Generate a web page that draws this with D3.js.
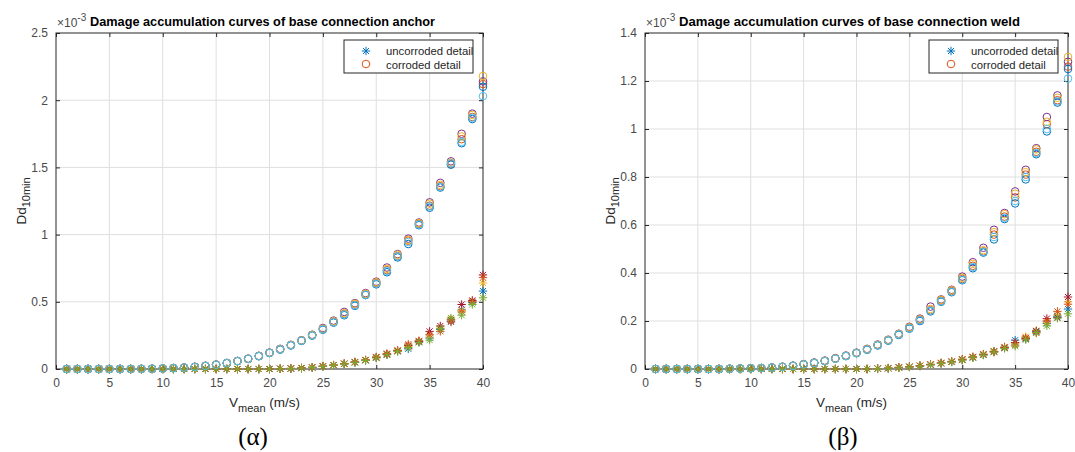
<!DOCTYPE html>
<html>
<head>
<meta charset="utf-8">
<script src="https://cdnjs.cloudflare.com/ajax/libs/d3/7.8.5/d3.min.js"></script>
<style>
  body { margin: 0; background: #fff; }
  svg { display: block; font-family: 'Liberation Sans', Arial, sans-serif; }
  .grid line { stroke: #dfdfdf; stroke-width: 1; }
  .tick text { fill: #4a4a4a; font-size: 12px; font-family: 'Liberation Sans', Arial, sans-serif; }
  .caption { font-family: 'Liberation Serif', 'Times New Roman', 'DejaVu Serif', serif; }
</style>
</head>
<body>
<svg id="chart" width="1075" height="452"></svg>
<script>
// wind speed classes (m/s)
var speeds = [1,2,3,4,5,6,7,8,9,10,11,12,13,14,15,16,17,18,19,20,21,22,23,24,25,26,27,28,29,30,31,32,33,34,35,36,37,38,39,40];

var xTicks = [0,5,10,15,20,25,30,35,40];
var anchorTicks = [0,0.5,1,1.5,2,2.5];
var weldTicks = [0,0.2,0.4,0.6,0.8,1,1.2,1.4];

// damage, x10^-3 : base connection anchor, uncorroded detail
var anchorUnc1 = [0,0,0,0,0,0,0,0,0,0,0,0,0,0,0,0,0,0,0,0,0.002,0.004,0.007,0.012,0.020,0.028,0.038,0.050,0.065,0.085,0.108,0.133,0.150,0.200,0.230,0.295,0.355,0.440,0.495,0.580];
var anchorUnc2 = [0,0,0,0,0,0,0,0,0,0,0,0,0,0,0,0,0,0,0,0,0.002,0.004,0.008,0.013,0.021,0.029,0.040,0.052,0.067,0.088,0.112,0.138,0.168,0.208,0.245,0.305,0.370,0.435,0.505,0.640];
var anchorUnc3 = [0,0,0,0,0,0,0,0,0,0,0,0,0,0,0,0,0,0,0,0,0.002,0.004,0.007,0.012,0.020,0.028,0.039,0.051,0.066,0.086,0.110,0.135,0.175,0.205,0.280,0.320,0.365,0.480,0.510,0.700];
var anchorUnc4 = [0,0,0,0,0,0,0,0,0,0,0,0,0,0,0,0,0,0,0,0,0.002,0.005,0.008,0.013,0.022,0.030,0.040,0.053,0.068,0.090,0.115,0.140,0.185,0.210,0.255,0.280,0.350,0.425,0.500,0.680];
var anchorUnc5 = [0,0,0,0,0,0,0,0,0,0,0,0,0,0,0,0,0,0,0,0,0.001,0.003,0.006,0.011,0.019,0.027,0.037,0.048,0.063,0.082,0.105,0.130,0.160,0.198,0.215,0.300,0.380,0.400,0.480,0.530];

// base connection anchor, corroded detail
var anchorCorr1 = [0,0,0,0,0,0,0,0.001,0.002,0.004,0.007,0.011,0.016,0.023,0.032,0.044,0.059,0.076,0.097,0.121,0.147,0.178,0.212,0.252,0.297,0.350,0.410,0.478,0.555,0.640,0.735,0.840,0.955,1.080,1.215,1.360,1.525,1.710,1.875,2.120];
var anchorCorr2 = [0,0,0,0,0,0,0,0.001,0.002,0.004,0.007,0.011,0.016,0.024,0.033,0.045,0.060,0.077,0.098,0.122,0.150,0.180,0.214,0.255,0.305,0.360,0.425,0.490,0.565,0.650,0.755,0.855,0.970,1.090,1.240,1.385,1.545,1.750,1.900,2.140];
var anchorCorr3 = [0,0,0,0,0,0,0,0.001,0.002,0.003,0.006,0.010,0.015,0.022,0.031,0.043,0.058,0.075,0.095,0.119,0.144,0.175,0.209,0.248,0.292,0.345,0.400,0.470,0.550,0.630,0.720,0.830,0.930,1.070,1.200,1.350,1.520,1.680,1.860,2.100];
var anchorCorr4 = [0,0,0,0,0,0,0,0.001,0.002,0.004,0.007,0.011,0.016,0.023,0.032,0.044,0.059,0.076,0.097,0.121,0.148,0.179,0.213,0.253,0.300,0.355,0.415,0.485,0.560,0.645,0.745,0.850,0.960,1.085,1.230,1.370,1.535,1.730,1.890,2.180];
var anchorCorr5 = [0,0,0,0,0,0,0,0.001,0.002,0.004,0.007,0.011,0.016,0.023,0.032,0.044,0.059,0.076,0.096,0.120,0.146,0.177,0.211,0.250,0.295,0.348,0.405,0.475,0.552,0.635,0.730,0.838,0.945,1.075,1.210,1.355,1.530,1.690,1.870,2.030];

// base connection weld, uncorroded detail
var weldUnc1 = [0,0,0,0,0,0,0,0,0,0,0,0,0,0,0,0,0,0,0,0,0,0.002,0.003,0.006,0.009,0.013,0.018,0.024,0.030,0.038,0.048,0.059,0.072,0.088,0.120,0.125,0.155,0.190,0.220,0.250];
var weldUnc2 = [0,0,0,0,0,0,0,0,0,0,0,0,0,0,0,0,0,0,0,0,0,0.002,0.004,0.006,0.010,0.014,0.019,0.025,0.031,0.040,0.050,0.061,0.075,0.090,0.108,0.135,0.160,0.195,0.225,0.280];
var weldUnc3 = [0,0,0,0,0,0,0,0,0,0,0,0,0,0,0,0,0,0,0,0,0,0.002,0.003,0.007,0.009,0.013,0.018,0.024,0.030,0.039,0.049,0.060,0.073,0.089,0.110,0.128,0.158,0.210,0.215,0.300];
var weldUnc4 = [0,0,0,0,0,0,0,0,0,0,0,0,0,0,0,0,0,0,0,0,0,0.002,0.004,0.007,0.010,0.014,0.020,0.026,0.032,0.041,0.051,0.062,0.070,0.092,0.100,0.130,0.150,0.200,0.240,0.270];
var weldUnc5 = [0,0,0,0,0,0,0,0,0,0,0,0,0,0,0,0,0,0,0,0,0,0.001,0.003,0.005,0.008,0.012,0.017,0.023,0.029,0.037,0.047,0.058,0.071,0.086,0.095,0.122,0.152,0.180,0.212,0.230];

// base connection weld, corroded detail
var weldCorr1 = [0,0,0,0,0,0,0,0.001,0.002,0.003,0.004,0.006,0.009,0.013,0.019,0.026,0.034,0.044,0.055,0.067,0.082,0.100,0.120,0.145,0.172,0.205,0.245,0.285,0.325,0.375,0.430,0.490,0.560,0.635,0.715,0.810,0.905,1.020,1.120,1.260];
var weldCorr2 = [0,0,0,0,0,0,0,0.001,0.002,0.003,0.004,0.006,0.009,0.014,0.020,0.027,0.035,0.045,0.056,0.068,0.084,0.102,0.122,0.147,0.176,0.210,0.260,0.290,0.330,0.385,0.445,0.505,0.580,0.650,0.740,0.830,0.920,1.050,1.140,1.280];
var weldCorr3 = [0,0,0,0,0,0,0,0.001,0.002,0.003,0.004,0.006,0.009,0.013,0.019,0.025,0.033,0.043,0.054,0.066,0.080,0.098,0.118,0.142,0.168,0.200,0.240,0.280,0.320,0.370,0.420,0.485,0.540,0.625,0.690,0.790,0.895,0.990,1.110,1.250];
var weldCorr4 = [0,0,0,0,0,0,0,0.001,0.002,0.003,0.004,0.006,0.009,0.013,0.019,0.026,0.034,0.044,0.055,0.067,0.083,0.101,0.121,0.146,0.174,0.207,0.250,0.288,0.328,0.380,0.438,0.495,0.570,0.645,0.730,0.820,0.915,1.030,1.130,1.300];
var weldCorr5 = [0,0,0,0,0,0,0,0.001,0.002,0.003,0.004,0.006,0.009,0.013,0.019,0.025,0.033,0.043,0.054,0.066,0.081,0.099,0.119,0.144,0.170,0.203,0.243,0.282,0.322,0.372,0.425,0.488,0.550,0.630,0.700,0.800,0.900,1.000,1.115,1.210];

// matlab default colour order, as they fall per run
var starColors = ["#0072BD", "#EDB120", "#A2142F", "#D95319", "#77AC30"];
var circleColors = ["#D95319", "#7E2F8E", "#0072BD", "#EDB120", "#4DBEEE"];

var legendLabels = ["uncorroded detail", "corroded detail"];

var svg = d3.select("#chart");

function starPath(r) {
  var d = r * 0.72;
  return "M" + (-r) + ",0L" + r + ",0M0," + (-r) + "L0," + r +
         "M" + (-d) + "," + (-d) + "L" + d + "," + d +
         "M" + (-d) + "," + d + "L" + d + "," + (-d);
}

function drawChart(opt) {
  var left = opt.left, top = 33,
      width = opt.width, height = 336;

  var x = d3.scaleLinear().domain([0, 40]).range([0, width]);
  var y = d3.scaleLinear().domain([0, opt.yMax]).range([height, 0]);

  var g = svg.append("g")
      .attr("transform", "translate(" + left + "," + top + ")");

  // grid
  var grid = g.append("g").attr("class", "grid");
  grid.selectAll(".gx").data(xTicks.slice(1, -1)).enter().append("line")
      .attr("x1", function(d) { return x(d); })
      .attr("x2", function(d) { return x(d); })
      .attr("y1", 0).attr("y2", height);
  grid.selectAll(".gy").data(opt.yTicks.slice(1, -1)).enter().append("line")
      .attr("y1", function(d) { return y(d); })
      .attr("y2", function(d) { return y(d); })
      .attr("x1", 0).attr("x2", width);

  // axes, ticks pointing in like matlab
  var xAxis = d3.axisBottom(x).tickValues(xTicks).tickSizeInner(-4).tickSizeOuter(0).tickPadding(9);
  var xTop = d3.axisTop(x).tickValues(xTicks).tickSizeInner(-4).tickSizeOuter(0).tickFormat("");
  var yAxis = d3.axisLeft(y).tickValues(opt.yTicks).tickSizeInner(-4).tickSizeOuter(0).tickPadding(8)
      .tickFormat(d3.format("~g"));
  var yRight = d3.axisRight(y).tickValues(opt.yTicks).tickSizeInner(-4).tickSizeOuter(0).tickFormat("");

  [g.append("g").attr("transform", "translate(0," + height + ")").call(xAxis),
   g.append("g").call(xTop),
   g.append("g").call(yAxis),
   g.append("g").attr("transform", "translate(" + width + ",0)").call(yRight)
  ].forEach(function(a) {
    a.attr("font-size", null).attr("font-family", null);
    a.select(".domain").remove();
    a.selectAll(".tick line").attr("stroke", "#262626");
  });

  g.append("rect")
      .attr("width", width).attr("height", height)
      .attr("fill", "none").attr("stroke", "#262626").attr("stroke-width", 1);

  // markers: star run, circle run, ... for each run
  opt.stars.forEach(function(vals, i) {
    g.append("g").selectAll("path").data(vals).enter().append("path")
        .attr("transform", function(d, j) { return "translate(" + x(speeds[j]) + "," + y(d) + ")"; })
        .attr("d", starPath(4.2))
        .attr("fill", "none")
        .attr("stroke", starColors[i])
        .attr("stroke-width", 1);
    g.append("g").selectAll("circle").data(opt.circles[i]).enter().append("circle")
        .attr("cx", function(d, j) { return x(speeds[j]); })
        .attr("cy", function(d) { return y(d); })
        .attr("r", 3.8)
        .attr("fill", "none")
        .attr("stroke", circleColors[i])
        .attr("stroke-width", 1);
  });

  // exponent
  var ex = g.append("text").attr("x", 1).attr("y", -6)
      .attr("font-size", 12).attr("fill", "#4a4a4a");
  ex.append("tspan").text("\u00d710");
  ex.append("tspan").attr("dy", -6).attr("font-size", 10).text("-3");

  // title, starts just after the exponent as matlab puts it
  g.append("text")
      .attr("x", opt.titleX).attr("y", -7)
      .attr("textLength", opt.titleLen).attr("lengthAdjust", "spacingAndGlyphs")
      .attr("font-weight", "bold").attr("font-size", 13).attr("fill", "#000")
      .text(opt.title);

  // x label
  var xl = g.append("text")
      .attr("x", width / 2 - 5).attr("y", height + 38)
      .attr("text-anchor", "middle").attr("font-size", 13.5).attr("fill", "#262626");
  xl.append("tspan").text("V");
  xl.append("tspan").attr("dy", 5).attr("font-size", 11).text("mean");
  xl.append("tspan").attr("dy", -5).text(" (m/s)");

  // y label
  var yl = g.append("text")
      .attr("transform", "translate(-30," + (height / 2) + ") rotate(-90)")
      .attr("text-anchor", "middle").attr("font-size", 13.5).attr("fill", "#262626");
  yl.append("tspan").text("Dd");
  yl.append("tspan").attr("dy", 4).attr("font-size", 11).text("10min");

  // legend
  var lw = 129, lh = 33;
  var lg = g.append("g").attr("transform", "translate(" + (width - lw - 10) + ",7)");
  lg.append("rect").attr("width", lw).attr("height", lh)
      .attr("fill", "#fff").attr("stroke", "#262626").attr("stroke-width", 1);
  lg.append("path").attr("transform", "translate(22,11)").attr("d", starPath(4.2))
      .attr("fill", "none").attr("stroke", starColors[0]);
  lg.append("circle").attr("cx", 22).attr("cy", 24).attr("r", 3.8)
      .attr("fill", "none").attr("stroke", circleColors[0]);
  lg.selectAll(".lt").data(legendLabels).enter().append("text")
      .attr("x", 42).attr("y", function(d, i) { return 15 + i * 13.5; })
      .attr("font-size", 11.3).attr("fill", "#262626")
      .text(function(d) { return d; });

  // caption
  svg.append("text")
      .attr("class", "caption")
      .attr("x", opt.captionX).attr("y", 445)
      .attr("text-anchor", "middle")
      .attr("font-size", 25).attr("fill", "#000")
      .text(opt.caption);
}

drawChart({
  left: 56, width: 427, yMax: 2.5, yTicks: anchorTicks,
  title: "Damage accumulation curves of base connection anchor",
  titleX: 34, titleLen: 345,
  stars: [anchorUnc1, anchorUnc2, anchorUnc3, anchorUnc4, anchorUnc5],
  circles: [anchorCorr1, anchorCorr2, anchorCorr3, anchorCorr4, anchorCorr5],
  caption: "(\u03b1)", captionX: 253
});

drawChart({
  left: 645, width: 423, yMax: 1.4, yTicks: weldTicks,
  title: "Damage accumulation curves of base connection weld",
  titleX: 34, titleLen: 341,
  stars: [weldUnc1, weldUnc2, weldUnc3, weldUnc4, weldUnc5],
  circles: [weldCorr1, weldCorr2, weldCorr3, weldCorr4, weldCorr5],
  caption: "(\u03b2)", captionX: 843
});
</script>
</body>
</html>
